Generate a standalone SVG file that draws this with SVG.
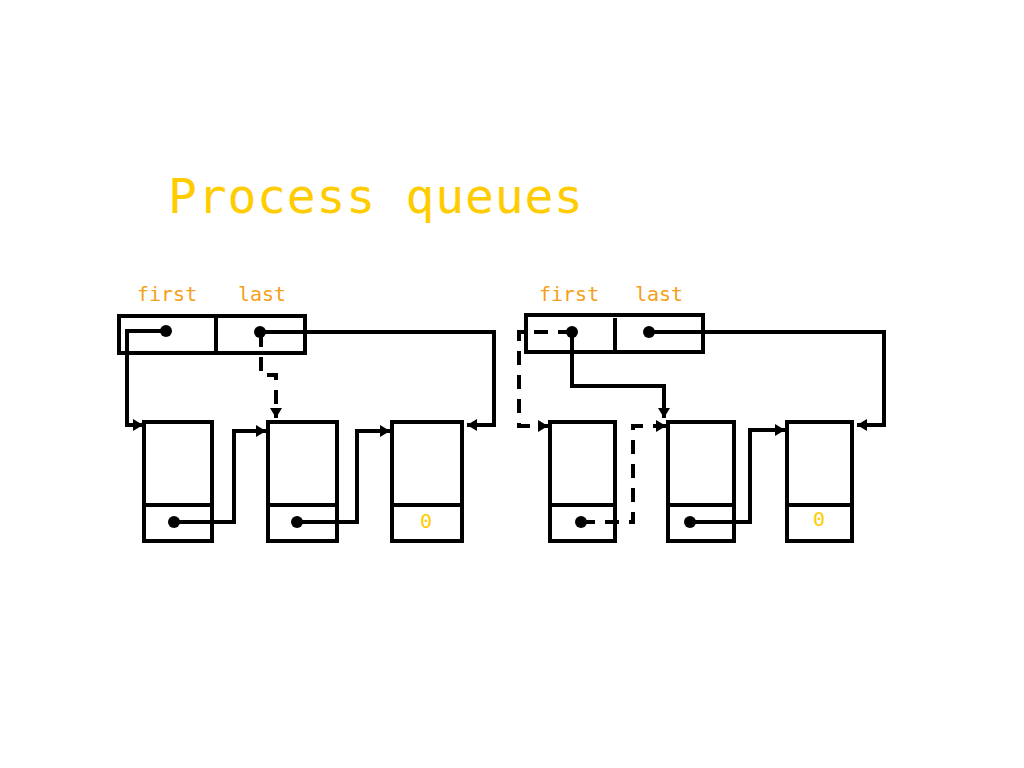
<svg xmlns="http://www.w3.org/2000/svg" width="1024" height="768" viewBox="0 0 1024 768">
<defs>
<marker id="ah" markerUnits="userSpaceOnUse" markerWidth="12" markerHeight="14" refX="10" refY="7" orient="auto">
<path d="M0,1 L10,7 L0,13 Z" fill="#000"/>
</marker>
<style>
.box{fill:#fff;stroke:#000;stroke-width:4}
.ln{fill:none;stroke:#000;stroke-width:4}
.dash{stroke-dasharray:14 10}
.dot{fill:#000}
.title{font-family:"DejaVu Sans Mono",monospace;font-size:48px;fill:#FFCC00;letter-spacing:0.8px}
.lbl{font-family:"DejaVu Sans Mono",monospace;font-size:20px;fill:#F5A01A}
.zero{font-family:"DejaVu Sans Mono",monospace;font-size:20px;fill:#FFCC00;text-anchor:middle}
</style>
</defs>
<rect width="1024" height="768" fill="#fff"/>
<text class="title" x="168" y="213">Process queues</text>

<g id="left-header">
<text class="lbl" x="137" y="301">first</text>
<text class="lbl" x="238" y="301">last</text>
<rect class="box" x="119" y="316" width="186" height="37"/>
<line class="ln" x1="216" y1="316" x2="216" y2="353"/>
</g>
<g id="left-node1"><rect class="box" x="144" y="422" width="68" height="119"/><line class="ln" x1="144" y1="505" x2="212" y2="505"/></g>
<g id="left-node2"><rect class="box" x="268" y="422" width="69" height="119"/><line class="ln" x1="268" y1="505" x2="337" y2="505"/></g>
<g id="left-node3"><rect class="box" x="392" y="422" width="70" height="119"/><line class="ln" x1="392" y1="505" x2="462" y2="505"/><text class="zero" x="426" y="528">0</text></g>

<g id="right-header">
<text class="lbl" x="539" y="301">first</text>
<text class="lbl" x="635" y="301">last</text>
<rect class="box" x="526" y="315" width="177" height="37"/>
<line class="ln" x1="615" y1="318" x2="615" y2="350"/>
</g>
<g id="right-node1"><rect class="box" x="550" y="422" width="65" height="119"/><line class="ln" x1="550" y1="505" x2="615" y2="505"/></g>
<g id="right-node2"><rect class="box" x="668" y="422" width="66" height="119"/><line class="ln" x1="668" y1="505" x2="734" y2="505"/></g>
<g id="right-node3"><rect class="box" x="787" y="422" width="65" height="119"/><line class="ln" x1="787" y1="505" x2="852" y2="505"/><text class="zero" x="819" y="526">0</text></g>

<g id="connectors">
<path class="ln" d="M166,331 H127 V425 H143" marker-end="url(#ah)"/>
<path class="ln dash" d="M261,333 V375 H276 V418" marker-end="url(#ah)"/>
<path class="ln" d="M260,332 H494 V425 H467" marker-end="url(#ah)"/>
<path class="ln" d="M174,522 H234 V431 H266" marker-end="url(#ah)"/>
<path class="ln" d="M297,522 H357 V431 H390" marker-end="url(#ah)"/>

<path class="ln dash" d="M572,332 H519 V426 H548" marker-end="url(#ah)"/>
<path class="ln" d="M572,332 V386 H664 V418" marker-end="url(#ah)"/>
<path class="ln" d="M649,332 H884 V425 H857" marker-end="url(#ah)"/>
<path class="ln dash" d="M581,522 H633 V426 H666" marker-end="url(#ah)"/>
<path class="ln" d="M690,522 H750 V430 H785" marker-end="url(#ah)"/>
</g>
<g id="dots">
<circle class="dot" cx="166" cy="331" r="6"/>
<circle class="dot" cx="260" cy="332" r="6"/>
<circle class="dot" cx="174" cy="522" r="6"/>
<circle class="dot" cx="297" cy="522" r="6"/>
<circle class="dot" cx="572" cy="332" r="6"/>
<circle class="dot" cx="649" cy="332" r="6"/>
<circle class="dot" cx="581" cy="522" r="6"/>
<circle class="dot" cx="690" cy="522" r="6"/>
</g>
</svg>
